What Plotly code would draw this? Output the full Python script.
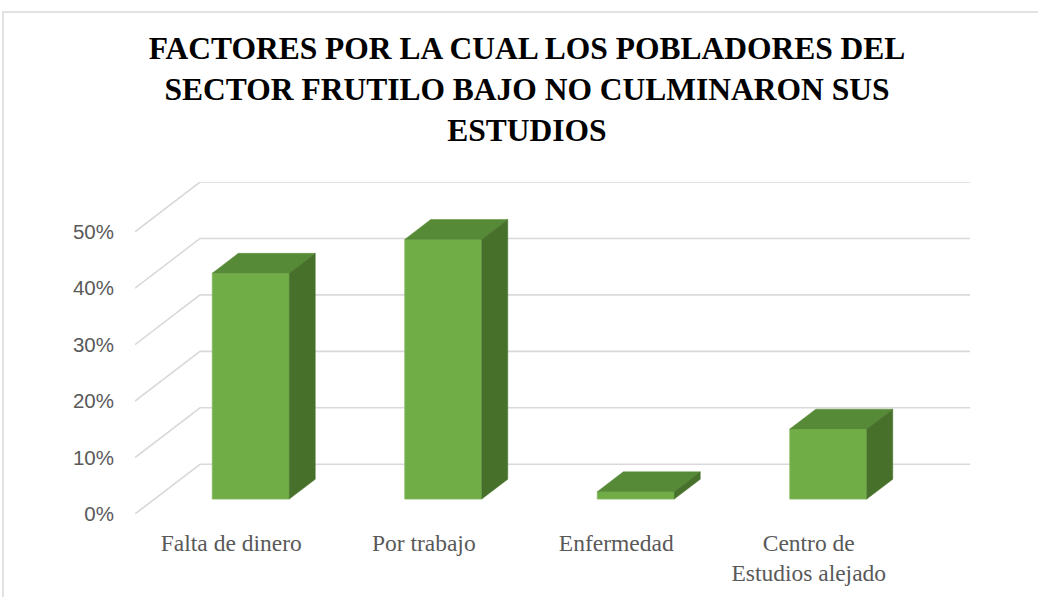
import plotly.graph_objects as go

# ---- data ----
categories = ["Falta de dinero", "Por trabajo", "Enfermedad", "Centro de<br>Estudios alejado"]
values = [0.40, 0.46, 0.013, 0.124]
tick_values = [0, 0.1, 0.2, 0.3, 0.4, 0.5]
tick_labels = ["0%", "10%", "20%", "30%", "40%", "50%"]
title_text = ("FACTORES POR LA CUAL LOS POBLADORES DEL<br>"
              "SECTOR FRUTILO BAJO NO CULMINARON SUS<br>ESTUDIOS")

# ---- 3D projection parameters (axis units) ----
DX = 0.3377   # x shift for full depth
DY = 0.0881   # y shift for full depth
d_front, d_back = 0.3, 0.7
bar_w = 0.4

FRONT = "#70AD47"
TOP = "#578A36"
SIDE = "#47702A"
GRID = "#D9D9D9"

fig = go.Figure()

# gridlines: diagonal on the left wall + horizontal on the back wall
ymax = tick_values[-1]
for v in tick_values:
    fig.add_trace(go.Scatter(
        x=[-0.5, -0.5 + DX, len(categories) - 0.5 + DX],
        y=[v, v + DY, v + DY],
        mode="lines", line=dict(color=GRID, width=1.6),
        hoverinfo="skip", showlegend=False))

x_idx = list(range(len(categories)))
ox_f, oy_f = d_front * DX, d_front * DY
ddx, ddy = (d_back - d_front) * DX, (d_back - d_front) * DY

for i, v in zip(x_idx, values):
    x0 = i + ox_f - bar_w / 2
    x1 = i + ox_f + bar_w / 2
    yb = oy_f
    yt = oy_f + v
    # front face
    fig.add_trace(go.Scatter(
        x=[x0, x1, x1, x0, x0], y=[yb, yb, yt, yt, yb],
        fill="toself", fillcolor=FRONT, mode="lines",
        line=dict(color="#86BA62", width=0.8), hoverinfo="skip", showlegend=False))
    # top face
    fig.add_trace(go.Scatter(
        x=[x0, x1, x1 + ddx, x0 + ddx, x0],
        y=[yt, yt, yt + ddy, yt + ddy, yt],
        fill="toself", fillcolor=TOP, mode="lines",
        line=dict(color=TOP, width=0.5), hoverinfo="skip", showlegend=False))
    # side face
    fig.add_trace(go.Scatter(
        x=[x1, x1, x1 + ddx, x1 + ddx, x1],
        y=[yb, yt, yt + ddy, yb + ddy, yb],
        fill="toself", fillcolor=SIDE, mode="lines",
        line=dict(color=SIDE, width=0.5), hoverinfo="skip", showlegend=False))

fig.update_layout(
    width=1038, height=597,
    margin=dict(l=135, r=68, t=182, b=83),
    paper_bgcolor="white", plot_bgcolor="white",
    showlegend=False,
    title=dict(text=title_text, x=527 / 1038, xanchor="center",
               y=1 - 59 / 597, yanchor="top", yref="container",
               font=dict(family="Liberation Serif", size=31.5, color="black", weight="bold")),
    xaxis=dict(range=[-0.5, len(categories) - 0.5 + DX], tickmode="array",
               tickvals=x_idx, ticktext=categories, showgrid=False, zeroline=False,
               showline=False, ticks="", ticklabelstandoff=12,
               tickfont=dict(family="Liberation Serif", size=23.5, color="#595959")),
    yaxis=dict(range=[0, ymax + DY], tickmode="array", tickvals=tick_values,
               ticktext=tick_labels, showgrid=False, zeroline=False, showline=False,
               ticks="", ticklabelstandoff=20,
               tickfont=dict(family="Liberation Sans", size=20.5, color="#595959")),
    shapes=[dict(type="rect", xref="paper", yref="paper",
                 x0=-132 / 835, x1=(1060 - 135) / 835,
                 y0=-100 / 332, y1=(514 - 12) / 332,
                 line=dict(color="#D9D9D9", width=1.5), fillcolor="rgba(0,0,0,0)",
                 layer="below")],
)

fig.write_html("out.html", config={"displayModeBar": False},
               post_script="document.body.style.margin='0';")
